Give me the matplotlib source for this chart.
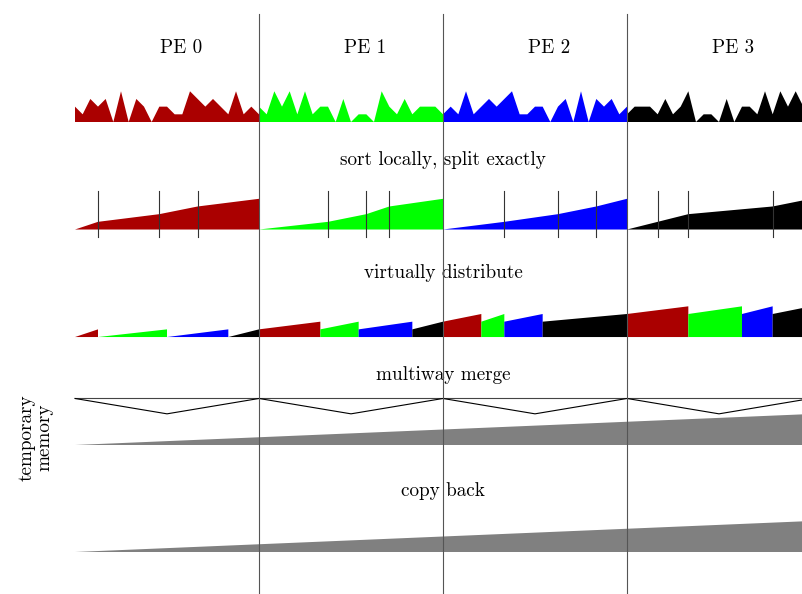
import numpy as np
import matplotlib.pyplot as plt

# element values per PE (unsorted input), 25 points per PE
pe_values = [
    [2, 1, 3, 2, 3, 0, 4, 0, 3, 2, 0, 2, 2, 1, 1, 4, 3, 2, 3, 2, 1, 4, 1, 2, 1],
    [2, 1, 4, 2, 4, 1, 4, 1, 2, 2, 0, 3, 0, 1, 1, 0, 4, 2, 1, 3, 1, 2, 2, 2, 1],
    [1, 2, 1, 4, 1, 2, 3, 2, 3, 4, 1, 1, 2, 2, 0, 2, 3, 0, 4, 0, 3, 2, 3, 1, 2],
    [1, 2, 2, 2, 1, 3, 1, 2, 4, 0, 1, 1, 0, 3, 0, 2, 2, 1, 4, 1, 4, 2, 4, 2, 1],
]
# split positions after local sort (ramp knots)
splits = [
    [3, 11, 16],
    [9, 14, 17],
    [8, 15, 20],
    [4, 8, 19],
]
pe_colors = ['#aa0000', '#00ff00', '#0000ff', '#000000']
pe_labels = ['PE 0', 'PE 1', 'PE 2', 'PE 3']
captions = ['sort locally, split exactly', 'virtually distribute',
            'multiway merge', 'copy back']
n = 24          # elements per PE
p = 4
u = 184 / 24    # pixels per unit (x)
uy = 7.68       # pixels per unit (y)
fs = 13.8

plt.rcParams['font.family'] = ['cmr10', 'DejaVu Serif']
fig = plt.figure(figsize=(8.03, 5.94), dpi=100)
ax = fig.add_axes([0, 0, 1, 1])
ax.set_xlim(-75 / u, (803 - 75) / u)
ax.set_ylim(-472 / uy, 122 / uy)
ax.axis('off')

# PE separators
for i in range(1, p):
    ax.plot([i * n, i * n], [14, -70], color='#555555', lw=0.8, zorder=5)

# PE labels
for i, lab in enumerate(pe_labels):
    ax.text(i * n + 13.8, 9.65, lab, ha='center', va='center', fontsize=fs)

# row 1: unsorted input
for i in range(p):
    xs = i * n + np.arange(n + 1)
    vals = np.array(pe_values[i])
    ax.fill(np.r_[xs, xs[-1], xs[0]], np.r_[vals, 0, 0], color=pe_colors[i], lw=0)

# row 2: sorted ramps and split ticks
row2 = -14
for i in range(p):
    knots = [0] + splits[i] + [n]
    xs = i * n + np.array(knots)
    hs = np.arange(len(knots))
    ax.fill(np.r_[xs, xs[-1], xs[0]], row2 + np.r_[hs, 0, 0], color=pe_colors[i], lw=0)
    for s in splits[i]:
        ax.plot([i * n + s] * 2, [row2 - 1, row2 + 5], color='#333333', lw=0.8)
ax.text(48, row2 + 9, captions[0], ha='center', va='center', fontsize=fs)

# row 3: virtual distribution
row3 = -28
for b in range(p):
    x0 = b * n
    for s in range(p):
        knots = [0] + splits[s] + [n]
        seg = knots[b + 1] - knots[b]
        ax.fill([x0, x0, x0 + seg, x0 + seg],
                row3 + np.array([0, b, b + 1, 0]), color=pe_colors[s], lw=0)
        x0 += seg
ax.text(48, row3 + 8.3, captions[1], ha='center', va='center', fontsize=fs)

# row 4: multiway merge
row4 = -36
ax.plot([0, 96], [row4, row4], color='#444444', lw=0.8)
zx = np.arange(0, p * n + 1, n / 2)
zy = np.where(np.arange(len(zx)) % 2 == 0, row4, row4 - 2)
ax.plot(zx, zy, color='black', lw=0.8)
ax.text(48, row4 + 3, captions[2], ha='center', va='center', fontsize=fs)
tmp = -42
ax.fill([0, 96, 96], [tmp, tmp, tmp + 4], color='#808080', lw=0)
ax.text(-5.2, tmp + 0.9, 'temporary\nmemory', rotation=90, ha='center',
        va='center', fontsize=fs, linespacing=1.0)

# row 5: copy back
row5 = -56
ax.fill([0, 96, 96], [row5, row5, row5 + 4], color='#808080', lw=0)
ax.text(48, row5 + 8, captions[3], ha='center', va='center', fontsize=fs)

fig.savefig('out.png', dpi=100)
